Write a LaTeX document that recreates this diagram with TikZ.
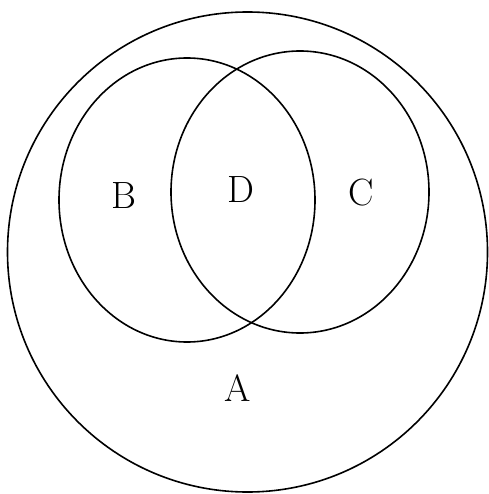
\documentclass[tikz,border=0pt]{standalone}
\usepackage{tikz}
\begin{document}
\begin{tikzpicture}[
    x=1pt, y=-1pt,
    set/.style={draw, line width=1.6pt},
    setlabel/.style={font=\fontsize{38}{40}\selectfont, inner sep=0pt}
]
\useasboundingbox (0,0) rectangle (488,494);

% Universe and the two overlapping sets
\draw[set] (247.5,252) circle [radius=240];
\draw[set] (187,200) ellipse [x radius=128, y radius=142];
\draw[set] (300,192) ellipse [x radius=129, y radius=141];

% Labels
\node[setlabel] (labA) at (238,388) {A};
\node[setlabel] (labB) at (124,196) {B};
\node[setlabel] (labC) at (361,193) {C};
\node[setlabel] (labD) at (241,190) {D};

\end{tikzpicture}
\end{document}
